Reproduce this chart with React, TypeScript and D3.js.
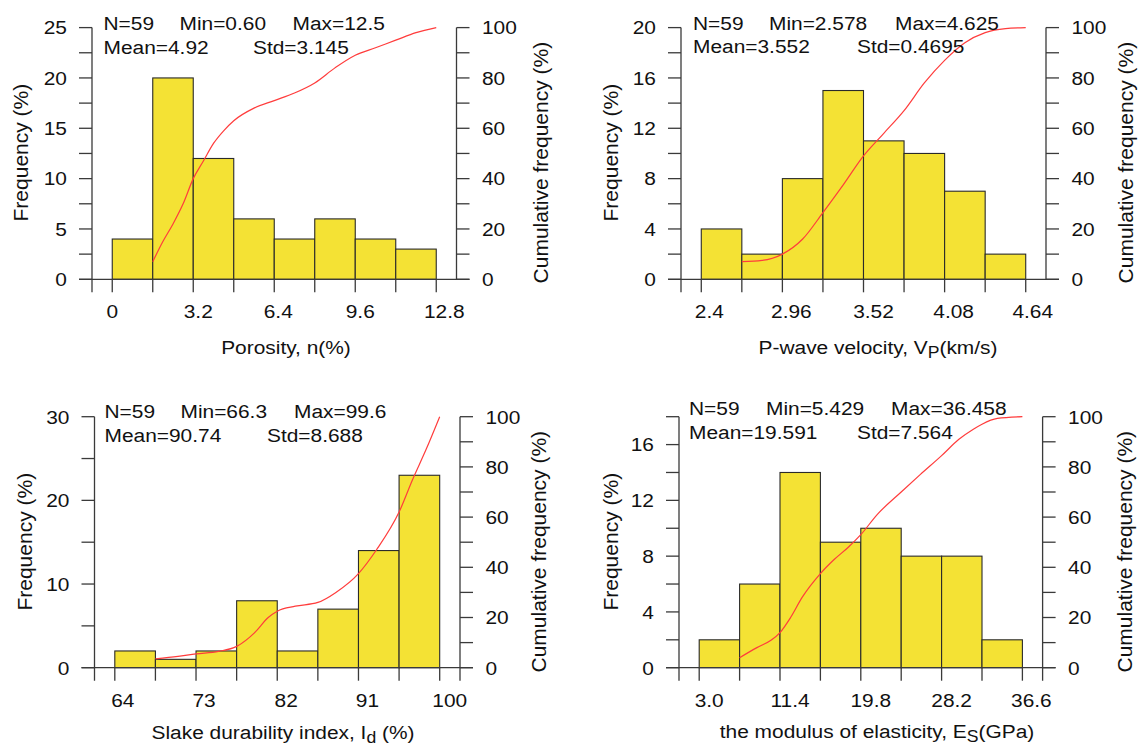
import React, { useEffect, useRef } from 'react';
import * as d3 from 'd3';

// ---------- DATA ----------
// Panel 1: Porosity
const porosityBins = [0, 1.6, 3.2, 4.8, 6.4, 8.0, 9.6, 11.2, 12.8];
const porosityFreq = [4, 20, 12, 6, 4, 6, 4, 3];
const porosityXTicks = [0, 3.2, 6.4, 9.6, 12.8];
const porosityXLabels = ['0', '3.2', '6.4', '9.6', '12.8'];
const porosityYTicks = [0, 5, 10, 15, 20, 25];
const porosityCumX = [1.6, 2.0, 2.4, 2.8, 3.2, 3.6, 4.0, 4.4, 4.8, 5.6, 6.4, 7.2, 8.0, 8.8, 9.6, 10.4, 11.2, 12.0, 12.8];
const porosityCumY = [7, 15, 22, 30, 40, 47, 54, 59, 63, 68, 71, 74, 78, 84, 89, 92, 95, 98, 100];
const porosityStats = ['N=59', 'Min=0.60', 'Max=12.5', 'Mean=4.92', 'Std=3.145'];

// Panel 2: P-wave velocity
const vpBins = [2.4, 2.68, 2.96, 3.24, 3.52, 3.8, 4.08, 4.36, 4.64];
const vpFreq = [4, 2, 8, 15, 11, 10, 7, 2];
const vpXTicks = [2.4, 2.96, 3.52, 4.08, 4.64];
const vpXLabels = ['2.4', '2.96', '3.52', '4.08', '4.64'];
const vpYTicks = [0, 4, 8, 12, 16, 20];
const vpCumX = [2.68, 2.82, 2.96, 3.1, 3.24, 3.38, 3.52, 3.66, 3.8, 3.94, 4.08, 4.22, 4.36, 4.5, 4.64];
const vpCumY = [7, 7.5, 10, 16, 26.5, 37.5, 49, 58, 67, 78, 87, 94, 98, 99.6, 100];
const vpStats = ['N=59', 'Min=2.578', 'Max=4.625', 'Mean=3.552', 'Std=0.4695'];

// Panel 3: Slake durability index
const idBins = [64, 68.5, 73, 77.5, 82, 86.5, 91, 95.5, 100];
const idFreq = [2, 1, 2, 8, 2, 7, 14, 23];
const idXTicks = [64, 73, 82, 91, 100];
const idXLabels = ['64', '73', '82', '91', '100'];
const idYTicks = [0, 10, 20, 30];
const idCumX = [68.5, 71, 73, 75.5, 77.5, 79.5, 81, 82, 84, 86.5, 88.5, 91, 93, 95.5, 97, 98.5, 100];
const idCumY = [3.5, 4.5, 5.5, 6.5, 8.5, 14, 20, 22.5, 24.5, 26, 30, 37.5, 47, 62, 75, 87, 100];
const idStats = ['N=59', 'Min=66.3', 'Max=99.6', 'Mean=90.74', 'Std=8.688'];

// Panel 4: modulus of elasticity
const esBins = [3.0, 7.2, 11.4, 15.6, 19.8, 24.0, 28.2, 32.4, 36.6];
const esFreq = [2, 6, 14, 9, 10, 8, 8, 2];
const esXTicks = [3.0, 11.4, 19.8, 28.2, 36.6];
const esXLabels = ['3.0', '11.4', '19.8', '28.2', '36.6'];
const esYTicks = [0, 4, 8, 12, 16];
const esCumX = [7.2, 9.0, 10.5, 11.4, 12.5, 13.7, 15.6, 17.0, 18.5, 19.8, 21.5, 24.0, 26.0, 28.2, 30.0, 31.5, 32.4, 34.0, 36.6];
const esCumY = [4, 8, 11, 14, 20, 28, 37.5, 43, 48, 53, 61, 70, 77, 84.5, 91, 95, 97, 99.3, 100];
const esStats = ['N=59', 'Min=5.429', 'Max=36.458', 'Mean=19.591', 'Std=7.564'];

const cumTicks = [0, 20, 40, 60, 80, 100];
const cumMinor = [10, 30, 50, 70, 90];

// ---------- STYLE / LAYOUT ----------
const FONT = '"Liberation Sans", Arial, Helvetica, sans-serif';
const FS = 19;
const SX = 1.1;
const FS_TITLE = 21;
const BAR = '#F4E234';
const AXIS = '#3a3a3a';
const CURVE = '#ff3c3c';
const TICK = 13;

type Seg = { t: string; sub?: boolean };

const panels = [
  {
    bins: porosityBins, freq: porosityFreq, xTicks: porosityXTicks, xLabels: porosityXLabels,
    yTicks: porosityYTicks, yMax: 25, yMinorStep: 2.5, cumX: porosityCumX, cumY: porosityCumY, stats: porosityStats,
    title: [{ t: 'Porosity, n(%)' }] as Seg[],
    L: 92, T: 27.6, W: 364.5, H: 251.7, rightExt: false,
    labelShift: [0, 5, 4, 5, 8],
    statX: [11.5, 87.5, 200.5, 11.5, 161], statY: [2.4, 2.4, 2.4, 26.4, 26.4],
    leftTitleX: -72, rightTitleX: 83.5, titleCX: 194, titleY: 75,
  },
  {
    bins: vpBins, freq: vpFreq, xTicks: vpXTicks, xLabels: vpXLabels,
    yTicks: vpYTicks, yMax: 20, yMinorStep: 2, cumX: vpCumX, cumY: vpCumY, stats: vpStats,
    title: [{ t: 'P-wave velocity, V' }, { t: 'P', sub: true }, { t: '(km/s)' }] as Seg[],
    L: 681, T: 27.6, W: 365, H: 251.7, rightExt: false,
    labelShift: [8, 9, 10, 9, 7],
    statX: [12, 88, 214, 12, 176], statY: [2, 2, 2, 25.5, 25.5],
    leftTitleX: -71, rightTitleX: 79, titleCX: 197, titleY: 75,
  },
  {
    bins: idBins, freq: idFreq, xTicks: idXTicks, xLabels: idXLabels,
    yTicks: idYTicks, yMax: 30, yMinorStep: 5, cumX: idCumX, cumY: idCumY, stats: idStats,
    title: [{ t: 'Slake durability index, I' }, { t: 'd', sub: true }, { t: ' (%)' }] as Seg[],
    L: 94.5, T: 416.7, W: 365.5, H: 251, rightExt: true,
    labelShift: [8, 8, 9, 9, 10],
    statX: [10, 86, 199.5, 10, 172.5], statY: [1.3, 1.3, 1.3, 25.3, 25.3],
    leftTitleX: -70.5, rightTitleX: 78, titleCX: 188.5, titleY: 71,
  },
  {
    bins: esBins, freq: esFreq, xTicks: esXTicks, xLabels: esXLabels,
    yTicks: esYTicks, yMax: 18, yMinorStep: 2, cumX: esCumX, cumY: esCumY, stats: esStats,
    title: [{ t: 'the modulus of elasticity, E' }, { t: 'S', sub: true }, { t: '(GPa)' }] as Seg[],
    L: 679, T: 416.7, W: 363.6, H: 251, rightExt: true,
    labelShift: [10, 10, 10, 10, 9],
    statX: [10, 87, 212, 10, 178], statY: [-1.7, -1.7, -1.7, 22.3, 22.3],
    leftTitleX: -69, rightTitleX: 82, titleCX: 198, titleY: 70,
  },
];

function text(g: any, x: number, y: number, s: string, anchor = 'start', size = FS, sx = SX) {
  return g.append('text')
    .attr('transform', `translate(${x},${y}) scale(${sx},1)`)
    .attr('text-anchor', anchor)
    .attr('font-family', FONT)
    .attr('font-size', size)
    .attr('fill', '#111')
    .text(s);
}

function drawPanel(svg: any, p: any) {
  const { L, T, W, H } = p;
  const B = T + H;
  const R = L + W;
  const nb = p.bins.length;
  const binW = p.bins[1] - p.bins[0];
  const x = d3.scaleLinear().domain([p.bins[0] - binW / 2, p.bins[nb - 1] + binW / 2]).range([L, R]);
  const y = d3.scaleLinear().domain([0, p.yMax]).range([B, T]);
  const yc = d3.scaleLinear().domain([0, 100]).range([B, T]);
  const g = svg.append('g');

  // bars
  g.selectAll('rect.bar').data(p.freq).join('rect')
    .attr('class', 'bar')
    .attr('x', (_d: number, i: number) => x(p.bins[i]))
    .attr('width', (_d: number, i: number) => x(p.bins[i + 1]) - x(p.bins[i]))
    .attr('y', (d: number) => y(d))
    .attr('height', (d: number) => y(0) - y(d))
    .attr('fill', BAR)
    .attr('stroke', '#2a2a2a')
    .attr('stroke-width', 1.1);

  const line = (x1: number, y1: number, x2: number, y2: number) =>
    g.append('line').attr('x1', x1).attr('y1', y1).attr('x2', x2).attr('y2', y2)
      .attr('stroke', AXIS).attr('stroke-width', 1.3);

  // baseline
  line(L - TICK, y(0), R + TICK, y(0));
  // left axis
  line(L, T, L, B + TICK);
  // right axis
  line(R, T, R, p.rightExt ? B + TICK : B);

  // bin edge ticks
  p.bins.forEach((b: number) => line(x(b), B, x(b), B + TICK));

  // left y ticks (major + minor)
  const leftAll = d3.range(0, p.yMax + 1e-6, p.yMinorStep);
  leftAll.forEach((v: number) => line(L - TICK, y(v), L, y(v)));
  p.yTicks.forEach((v: number) => text(g, L - 25, y(v) + 6.8, String(v), 'end'));

  // right y ticks
  [...cumTicks, ...cumMinor].forEach((v: number) => line(R, yc(v), R + TICK, yc(v)));
  cumTicks.forEach((v: number) => text(g, R + 25.5, yc(v) + 6.8, String(v), 'start'));

  // x tick labels
  p.xTicks.forEach((v: number, i: number) => text(g, x(v) + p.labelShift[i], B + 39, p.xLabels[i], 'middle'));

  // cumulative curve
  const pts = p.cumX.map((v: number, i: number) => [v, p.cumY[i]]);
  const lg = d3.line<number[]>().x(d => x(d[0])).y(d => yc(d[1])).curve(d3.curveMonotoneX);
  g.append('path').attr('d', lg(pts)).attr('fill', 'none').attr('stroke', CURVE).attr('stroke-width', 1.2);

  // stats
  p.stats.forEach((s: string, i: number) => text(g, L + p.statX[i], T + p.statY[i], s, 'start'));

  // left title
  g.append('text')
    .attr('transform', `translate(${L + p.leftTitleX + 7.5},${T + 125}) rotate(-90)`)
    .attr('text-anchor', 'middle').attr('font-family', FONT).attr('font-size', FS_TITLE).attr('fill', '#111')
    .text('Frequency (%)');
  // right title
  g.append('text')
    .attr('transform', `translate(${R + p.rightTitleX + 7.5},${T + 135}) rotate(-90)`)
    .attr('text-anchor', 'middle').attr('font-family', FONT).attr('font-size', FS_TITLE).attr('fill', '#111')
    .text('Cumulative frequency (%)');

  // x title
  const tt = g.append('text')
    .attr('transform', `translate(${L + p.titleCX},${B + p.titleY}) scale(${SX},1)`)
    .attr('text-anchor', 'middle').attr('font-family', FONT).attr('font-size', FS).attr('fill', '#111');
  p.title.forEach((seg: Seg, i: number) => {
    const ts = tt.append('tspan').text(seg.t);
    if (seg.sub) ts.attr('font-size', 16).attr('dy', 4);
    else if (i > 0 && p.title[i - 1].sub) ts.attr('dy', -4);
  });
}

export default function App() {
  const ref = useRef<SVGSVGElement>(null);
  useEffect(() => {
    const svg = d3.select(ref.current);
    svg.selectAll('*').remove();
    panels.forEach(p => drawPanel(svg, p));
  }, []);
  return (
    <svg
      ref={ref}
      width={1138}
      height={746}
      style={{ position: 'absolute', left: 0, top: 0, background: '#fff' }}
    />
  );
}
